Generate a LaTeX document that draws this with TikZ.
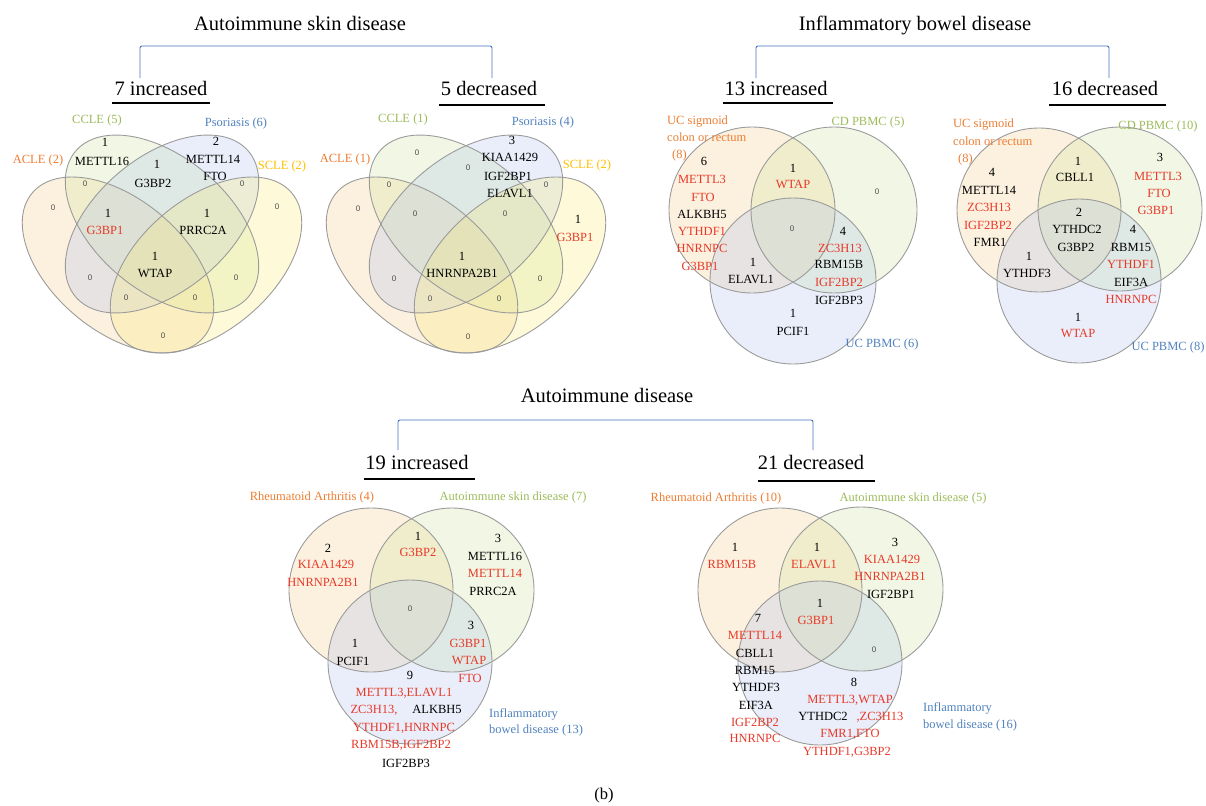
\documentclass[tikz,border=0pt]{standalone}
\usepackage{fontspec}
\setmainfont{Liberation Serif}
\setsansfont{Liberation Sans}
\definecolor{cOr}{RGB}{237,125,49}
\definecolor{cGr}{RGB}{155,187,89}
\definecolor{cBl}{RGB}{79,129,189}
\definecolor{cGo}{RGB}{255,192,0}
\definecolor{cRd}{RGB}{232,56,40}
\definecolor{cBr}{RGB}{68,114,196}
\definecolor{fOr}{RGB}{245,200,130}
\definecolor{fGr}{RGB}{200,225,150}
\definecolor{fBl}{RGB}{170,190,235}
\definecolor{fYe}{RGB}{250,235,110}
\definecolor{eGy}{RGB}{155,155,155}
\tikzset{
  ttl/.style={font=\fontsize{20.5}{24}\selectfont, anchor=base, inner sep=0pt},
  lbl/.style={font=\fontsize{12.5}{15}\selectfont, anchor=base, inner sep=0pt},
  lbll/.style={lbl, anchor=base west},
  zro/.style={font=\sffamily\fontsize{8}{9}\selectfont, text=black!70, anchor=base, inner sep=0pt},
  brk/.style={draw=cBr, line width=0.9pt, rounded corners=2pt},
  uln/.style={draw=black, line width=1.2pt},
  vedge/.style={draw=eGy, line width=0.9pt},
  fo/.style={fill=fOr, fill opacity=0.26},
  fg/.style={fill=fGr, fill opacity=0.26},
  fb/.style={fill=fBl, fill opacity=0.26},
  fy/.style={fill=fYe, fill opacity=0.26},
}
\newcommand\quadvenn[1]{%
  \fill[fo, rotate around={-40:(#1-44,265)}] (#1-44,265) ellipse[x radius=112, y radius=66];
  \fill[fg, rotate around={-40:(#1,224)}] (#1,224) ellipse[x radius=113, y radius=67];
  \fill[fb, rotate around={40:(#1,224)}] (#1,224) ellipse[x radius=113, y radius=67];
  \fill[fy, rotate around={40:(#1+44,265)}] (#1+44,265) ellipse[x radius=112, y radius=66];
  \draw[vedge, rotate around={-40:(#1-44,265)}] (#1-44,265) ellipse[x radius=112, y radius=66];
  \draw[vedge, rotate around={-40:(#1,224)}] (#1,224) ellipse[x radius=113, y radius=67];
  \draw[vedge, rotate around={40:(#1,224)}] (#1,224) ellipse[x radius=113, y radius=67];
  \draw[vedge, rotate around={40:(#1+44,265)}] (#1+44,265) ellipse[x radius=112, y radius=66];
}
% #1 orange centre, #2 green centre, #3 blue centre, #4 radius
\newcommand\trivenn[4]{%
  \fill[fo] (#1) circle[radius=#4];
  \fill[fg] (#2) circle[radius=#4];
  \fill[fb] (#3) circle[radius=#4];
  \draw[vedge] (#1) circle[radius=#4];
  \draw[vedge] (#2) circle[radius=#4];
  \draw[vedge] (#3) circle[radius=#4];
}
\begin{document}
\begin{tikzpicture}[x=1pt,y=-1pt]
\path[use as bounding box] (0,0) rectangle (1206,805);

% ---------- headings and brackets ----------
\node[ttl] (t1) at (300,31) {Autoimmune skin disease};
\node[ttl] (t2) at (915,31) {Inflammatory bowel disease};
\node[ttl] (t3) at (607,402) {Autoimmune disease};
\node[ttl] (s1) at (161,96) {7 increased};
\node[ttl] (s2) at (489,96) {5 decreased};
\node[ttl] (s3) at (776,96) {13 increased};
\node[ttl] (s4) at (1105,96) {16 decreased};
\node[ttl] (s5) at (417,469) {19 increased};
\node[ttl] (s6) at (811,469) {21 decreased};
\node[font=\fontsize{16.5}{19}\selectfont, anchor=base, inner sep=0pt] (fb) at (604,799) {(b)};

\coordinate (b1l) at (140,78); \coordinate (b1t) at (316,46); \coordinate (b1r) at (492,78);
\coordinate (b2l) at (756,78); \coordinate (b2t) at (932,46); \coordinate (b2r) at (1109,78);
\coordinate (b3l) at (398,450); \coordinate (b3t) at (605,420); \coordinate (b3r) at (813,450);
\draw[brk] (b1l) |- (b1t) -| (b1r);
\draw[brk] (b2l) |- (b2t) -| (b2r);
\draw[brk] (b3l) |- (b3t) -| (b3r);

\coordinate (u1a) at (112,103); \coordinate (u1b) at (210,103);
\coordinate (u2a) at (439,105); \coordinate (u2b) at (545,105);
\coordinate (u3a) at (723,103); \coordinate (u3b) at (833,103);
\coordinate (u4a) at (1049,105); \coordinate (u4b) at (1166,105);
\coordinate (u5a) at (364,479); \coordinate (u5b) at (475,479);
\coordinate (u6a) at (758,481); \coordinate (u6b) at (875,481);
\foreach \k in {1,...,6} { \draw[uln] (u\k a) -- (u\k b); }

% ---------- shapes ----------
\quadvenn{162}
\quadvenn{466}
\trivenn{752,210}{834,210}{793,281}{83}
\trivenn{1039,210}{1120,209}{1079,281}{82}
\trivenn{371,590}{452,590}{410,662}{82}
\trivenn{780,590}{861,589}{820,663}{82}

% ---------- set labels ----------
\foreach \x/\y/\t/\c [count=\i] in {
  97/124/{CCLE (5)}/cGr, 236/127/{Psoriasis (6)}/cBl, 38/164/{ACLE (2)}/cOr, 282/170/{SCLE (2)}/cGo,
  403/123/{CCLE (1)}/cGr, 543/126/{Psoriasis (4)}/cBl, 345/163/{ACLE (1)}/cOr, 587/168/{SCLE (2)}/cGo,
  868/126/{CD PBMC (5)}/cGr, 882/347/{UC PBMC (6)}/cBl,
  1158/130/{CD PBMC (10)}/cGr, 1168/350/{UC PBMC (8)}/cBl,
  312/500/{Rheumatoid Arthritis (4)}/cOr, 513/500/{Autoimmune skin disease (7)}/cGr,
  716/501/{Rheumatoid Arthritis (10)}/cOr, 913/501/{Autoimmune skin disease (5)}/cGr}
  { \node[lbl, text=\c] (set\i) at (\x,\y) {\t}; }
\foreach \x/\y/\t/\c [count=\i] in {
  667/125/{UC sigmoid}/cOr, 667/142/{colon or rectum}/cOr, 672/159/{(8)}/cOr,
  953/128/{UC sigmoid}/cOr, 953/146/{colon or rectum}/cOr, 958/163/{(8)}/cOr,
  489/717/{Inflammatory}/cBl, 489/733/{bowel disease (13)}/cBl,
  923/711/{Inflammatory}/cBl, 923/728/{bowel disease (16)}/cBl}
  { \node[lbll, text=\c] (setl\i) at (\x,\y) {\t}; }

% ---------- zero counts ----------
\foreach \x/\y [count=\i] in {85/186, 242/186, 53/210, 277/209, 90/280, 236/280, 126/300, 195/300, 163/338,
  417/156, 468/171, 389/187, 546/187, 358/211, 415/216, 505/216, 394/281, 540/281, 430/301, 499/301, 468/339,
  877/194, 792/231, 410/611, 874/652}
  { \node[zro] (z\i) at (\x,\y) {0}; }

% ---------- region contents ----------
\foreach \x/\y/\t/\c [count=\i] in {
  105/147/1/black, 102/165/METTL16/black, 157/169/1/black, 153/187/G3BP2/black,
  216/146/2/black, 213/164/METTL14/black, 215/181/FTO/black,
  108/217/1/black, 105/234/G3BP1/cRd, 207/217/1/black, 203/234/PRRC2A/black,
  155/260/1/black, 155/277/WTAP/black}
  { \node[lbl, text=\c] (va\i) at (\x,\y) {\t}; }
\foreach \x/\y/\t/\c [count=\i] in {
  512/145/3/black, 510/162/KIAA1429/black, 508/180/IGF2BP1/black, 510/197/ELAVL1/black,
  578/223/1/black, 575/241/G3BP1/cRd, 462/260/1/black, 462/277/HNRNPA2B1/black}
  { \node[lbl, text=\c] (vb\i) at (\x,\y) {\t}; }
\foreach \x/\y/\t/\c [count=\i] in {
  704/166/6/black, 702/183/METTL3/cRd, 703/201/FTO/cRd, 702/218/ALKBH5/black,
  702/235/YTHDF1/cRd, 702/252/HNRNPC/cRd, 700/270/G3BP1/cRd,
  793/172/1/black, 793/189/WTAP/cRd,
  843/235/4/black, 840/252/ZC3H13/cRd, 839/268/RBM15B/black, 839/286/IGF2BP2/cRd, 839/304/IGF2BP3/black,
  753/266/1/black, 751/283/ELAVL1/black, 793/317/1/black, 793/335/PCIF1/black}
  { \node[lbl, text=\c] (vc\i) at (\x,\y) {\t}; }
\foreach \x/\y/\t/\c [count=\i] in {
  992/177/4/black, 989/194/METTL14/black, 989/211/ZC3H13/cRd, 988/229/IGF2BP2/cRd, 990/246/FMR1/black,
  1078/165/1/black, 1075/182/CBLL1/black,
  1160/162/3/black, 1158/180/METTL3/cRd, 1159/197/FTO/cRd, 1156/214/G3BP1/cRd,
  1079/216/2/black, 1077/233/YTHDC2/black, 1076/251/G3BP2/black,
  1133/233/4/black, 1131/251/RBM15/black, 1131/268/YTHDF1/cRd, 1131/286/EIF3A/black, 1131/303/HNRNPC/cRd,
  1029/260/1/black, 1027/277/YTHDF3/black, 1078/321/1/black, 1078/337/WTAP/cRd}
  { \node[lbl, text=\c] (vd\i) at (\x,\y) {\t}; }
\foreach \x/\y/\t/\c [count=\i] in {
  418/540/1/black, 418/556/G3BP2/cRd,
  328/552/2/black, 326/568/KIAA1429/cRd, 323/586/HNRNPA2B1/cRd,
  498/542/3/black, 495/560/METTL16/black, 495/577/METTL14/cRd, 493/595/PRRC2A/black,
  355/647/1/black, 353/665/PCIF1/black,
  471/629/3/black, 468/647/G3BP1/cRd, 469/664/WTAP/cRd, 470/682/FTO/cRd,
  410/679/9/black, 404/696/{METTL3,ELAVL1}/cRd, 374/713/{ZC3H13,}/cRd, 437/713/ALKBH5/black,
  404/731/{YTHDF1,HNRNPC}/cRd, 401/748/{RBM15B,IGF2BP2}/cRd, 406/767/IGF2BP3/black}
  { \node[lbl, text=\c] (ve\i) at (\x,\y) {\t}; }
\foreach \x/\y/\t/\c [count=\i] in {
  735/551/1/black, 732/568/RBM15B/cRd, 817/551/1/black, 814/568/ELAVL1/cRd,
  895/546/3/black, 892/563/KIAA1429/cRd, 890/580/HNRNPA2B1/cRd, 891/598/IGF2BP1/black,
  820/607/1/black, 816/624/G3BP1/cRd,
  758/622/7/black, 755/639/METTL14/cRd, 755/657/CBLL1/black, 755/674/RBM15/black,
  756/691/YTHDF3/black, 756/709/EIF3A/black, 755/726/IGF2BP2/cRd, 755/742/HNRNPC/cRd,
  854/686/8/black, 850/703/{METTL3,WTAP}/cRd, 823/720/YTHDC2/black, 880/720/{,ZC3H13}/cRd,
  850/737/{FMR1,FTO}/cRd, 847/755/{YTHDF1,G3BP2}/cRd}
  { \node[lbl, text=\c] (vf\i) at (\x,\y) {\t}; }
\end{tikzpicture}
\end{document}
